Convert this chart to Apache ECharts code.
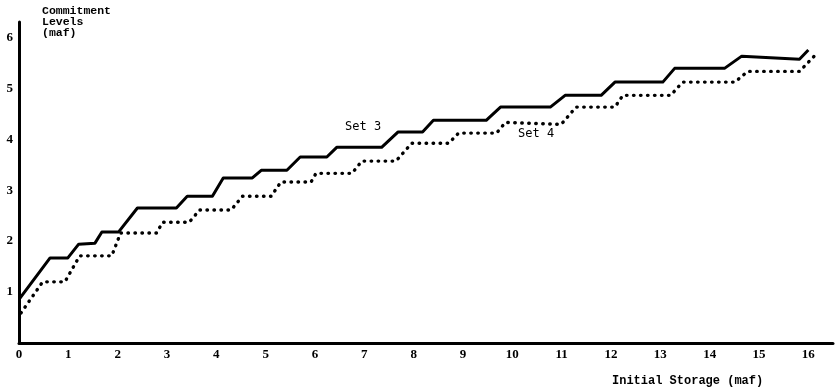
<!DOCTYPE html>
<html>
<head>
<meta charset="utf-8">
<script src="https://cdn.jsdelivr.net/npm/echarts@6/dist/echarts.min.js"></script>
<style>
html,body{margin:0;padding:0;background:#fff;}
#chart{width:836px;height:390px;}
</style>
</head>
<body>
<div id="chart"></div>
<script>
// Initial storage (maf) vs commitment level (maf) — stepwise curves
var set3X = [0.02,0.63,0.99,1.21,1.54,1.68,2.02,2.40,3.19,3.41,3.92,4.14,4.73,4.91,5.43,5.70,6.24,6.44,7.35,7.68,8.18,8.40,9.47,9.76,10.77,11.07,11.80,12.08,13.05,13.29,14.30,14.65,15.82,16.00];
var set3Y = [0.88,1.67,1.67,1.94,1.96,2.18,2.18,2.65,2.65,2.88,2.88,3.24,3.24,3.39,3.39,3.65,3.65,3.84,3.84,4.14,4.14,4.37,4.37,4.63,4.63,4.86,4.86,5.12,5.12,5.39,5.39,5.63,5.57,5.75];
var set4X = [0.04,0.48,0.93,1.23,1.88,2.06,2.79,2.91,3.45,3.66,4.30,4.53,5.11,5.31,5.92,6.02,6.75,6.95,7.64,7.96,8.71,8.91,9.68,9.86,10.99,11.29,12.08,12.24,13.21,13.45,14.51,14.77,15.82,16.14];
var set4Y = [0.59,1.20,1.20,1.71,1.71,2.16,2.16,2.37,2.37,2.61,2.61,2.88,2.88,3.16,3.16,3.33,3.33,3.57,3.57,3.92,3.92,4.12,4.12,4.33,4.29,4.63,4.63,4.86,4.86,5.12,5.12,5.33,5.33,5.65];
var seriesNames = ['Set 3','Set 4'];
var yAxisTitle = ['Commitment','Levels','(maf)'];
var xAxisTitle = 'Initial Storage (maf)';

function pairs(xs, ys){ return xs.map(function(x,i){ return [x, ys[i]]; }); }

var chart = echarts.init(document.getElementById('chart'), null, {renderer:'canvas'});
chart.setOption({
  animation:false,
  backgroundColor:'#fff',
  grid:{left:19, right:0, top:22, bottom:47},
  xAxis:{
    type:'value', min:0, max:16.5, interval:1,
    axisLine:{show:true, onZero:false, lineStyle:{color:'#000', width:3}},
    axisTick:{show:false}, splitLine:{show:false},
    axisLabel:{color:'#000', fontFamily:'Liberation Serif', fontWeight:'bold', fontSize:13, margin:5,
      formatter:function(v){ return (Math.abs(v-Math.round(v))<1e-6) ? String(Math.round(v)) : ''; }}
  },
  yAxis:{
    type:'value', min:0, max:6.3, interval:1,
    axisLine:{show:true, onZero:false, lineStyle:{color:'#000', width:3}},
    axisTick:{show:false}, splitLine:{show:false},
    axisLabel:{color:'#000', fontFamily:'Liberation Serif', fontWeight:'bold', fontSize:13, margin:6,
      formatter:function(v){ return (v>0.5 && Math.abs(v-Math.round(v))<1e-6) ? String(Math.round(v)) : ''; }}
  },
  series:[
    {name:seriesNames[0], type:'line', data:pairs(set3X,set3Y), symbol:'none',
      lineStyle:{color:'#000', width:3, join:'round'}},
    {name:seriesNames[1], type:'line', data:pairs(set4X,set4Y), symbol:'none',
      lineStyle:{color:'#000', width:3.4, type:[0.5,6.5], cap:'round'}}
  ],
  graphic:[
    {type:'text', left:42, top:5, style:{text:yAxisTitle.join('\n'), font:'bold 11.5px "Liberation Mono"', fill:'#000', lineHeight:11}},
    {type:'text', left:612, top:375, style:{text:xAxisTitle, font:'bold 12px "Liberation Mono"', fill:'#000'}},
    {type:'text', left:345, top:121, style:{text:seriesNames[0], font:'12px "DejaVu Sans Mono"', fill:'#000'}},
    {type:'text', left:518, top:128, style:{text:seriesNames[1], font:'12px "DejaVu Sans Mono"', fill:'#000'}}
  ]
});
</script>
</body>
</html>
